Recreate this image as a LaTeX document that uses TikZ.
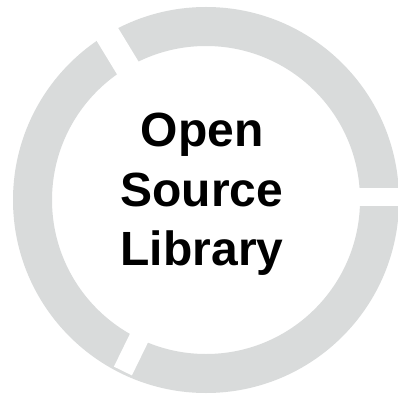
\documentclass[tikz,border=0pt]{standalone}
\usepackage{fontspec}
\setmainfont{Liberation Sans}
\definecolor{ringgray}{RGB}{217,219,219}
\begin{document}
\begin{tikzpicture}[x=1pt,y=-1pt,
  ringfill/.style={fill=ringgray,even odd rule},
  gapcut/.style={draw=white,line cap=butt},
  label/.style={anchor=base,inner sep=0pt,font=\fontsize{48}{58}\selectfont\bfseries,text=black}]
\useasboundingbox (0,0) rectangle (398,395);
\clip (0,0) rectangle (398,395);
\fill[white] (0,0) rectangle (398,395);
\coordinate (c) at (206,200);
\fill[ringfill] (c) circle[radius=193] (c) circle[radius=154];
% gaps
\coordinate (g1a) at (141.2,90);
\coordinate (g1b) at (99.6,21.6);
\draw[gapcut,line width=25pt] (g1a) -- (g1b);
\coordinate (g2a) at (162.5,290);
\coordinate (g2b) at (122.9,371);
\draw[gapcut,line width=20pt] (g2a) -- (g2b);
\coordinate (g3a) at (340,197);
\coordinate (g3b) at (410,197);
\draw[gapcut,line width=18pt] (g3a) -- (g3b);
% text
\node[label] (open) at (202,147) {Open};
\node[label] (source) at (202,206) {Source};
\node[label] (library) at (202,265) {Library};
\end{tikzpicture}
\end{document}
